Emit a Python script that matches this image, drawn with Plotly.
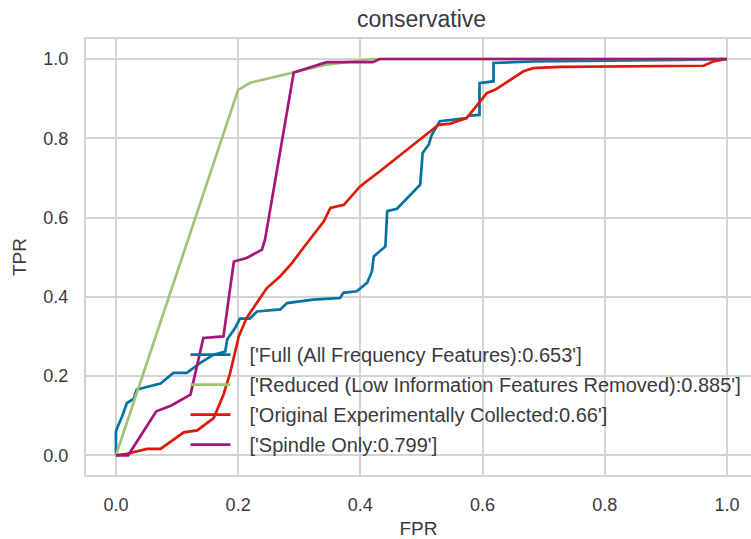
import plotly.graph_objects as go

# ROC curves (FPR, TPR) for each feature set
full_fpr = [0.0, 0.0, 0.003, 0.01, 0.018, 0.029, 0.034, 0.073, 0.094, 0.116, 0.138, 0.16, 0.179, 0.182,
            0.195, 0.203, 0.219, 0.231, 0.269, 0.28, 0.323, 0.367, 0.372, 0.394, 0.411, 0.419, 0.422,
            0.435, 0.441, 0.444, 0.46, 0.498, 0.502, 0.512, 0.517, 0.53, 0.574, 0.577, 0.595, 0.595,
            0.618, 0.618, 0.683, 0.924, 1.0]
full_tpr = [0.0, 0.06, 0.073, 0.098, 0.132, 0.142, 0.166, 0.181, 0.208, 0.208, 0.233, 0.254, 0.262, 0.292,
            0.321, 0.345, 0.345, 0.363, 0.368, 0.384, 0.393, 0.397, 0.41, 0.414, 0.435, 0.464, 0.502,
            0.519, 0.527, 0.616, 0.622, 0.683, 0.763, 0.784, 0.809, 0.843, 0.851, 0.857, 0.859, 0.939,
            0.944, 0.99, 0.994, 0.998, 1.0]

reduced_fpr = [0.0, 0.2, 0.22, 0.29, 0.345, 0.42, 1.0]
reduced_tpr = [0.0, 0.922, 0.94, 0.965, 0.986, 1.0, 1.0]

original_fpr = [0.0, 0.018, 0.051, 0.073, 0.111, 0.133, 0.16, 0.176, 0.187, 0.201, 0.214, 0.247, 0.269,
                0.288, 0.31, 0.34, 0.351, 0.373, 0.4, 0.433, 0.528, 0.547, 0.574, 0.607, 0.621, 0.651,
                0.667, 0.683, 0.727, 0.962, 0.978, 1.0]
original_tpr = [0.0, 0.004, 0.016, 0.016, 0.058, 0.063, 0.094, 0.153, 0.208, 0.3, 0.347, 0.422, 0.452,
                0.485, 0.53, 0.59, 0.624, 0.632, 0.679, 0.718, 0.834, 0.837, 0.851, 0.914, 0.923, 0.952,
                0.969, 0.977, 0.98, 0.983, 0.994, 1.0]

spindle_fpr = [0.0, 0.02, 0.066, 0.09, 0.122, 0.143, 0.176, 0.193, 0.214, 0.239, 0.244, 0.291, 0.345,
               0.42, 0.432, 1.0]
spindle_tpr = [0.0, 0.0, 0.111, 0.125, 0.153, 0.296, 0.3, 0.489, 0.498, 0.519, 0.544, 0.966, 0.992,
               0.992, 1.0, 1.0]

labels = [
    "['Full (All Frequency Features):0.653']",
    "['Reduced (Low Information Features Removed):0.885']",
    "['Original Experimentally Collected:0.66']",
    "['Spindle Only:0.799']",
]
colors = ["#0272a2", "#9fc377", "#dd1a0a", "#a5157a"]

tick_vals = [0.0, 0.2, 0.4, 0.6, 0.8, 1.0]
tick_text = ["0.0", "0.2", "0.4", "0.6", "0.8", "1.0"]

FONT = "Liberation Sans, Arial, sans-serif"
TEXT = "#3a3a3a"
GRID = "#d4d4d4"
PAD = "\u2002\u2009"  # small gap between legend line and its label

fig = go.Figure()
series = [(full_fpr, full_tpr), (reduced_fpr, reduced_tpr),
          (original_fpr, original_tpr), (spindle_fpr, spindle_tpr)]
for i, ((xs, ys), name, col) in enumerate(zip(series, labels, colors)):
    fig.add_trace(go.Scatter(
        x=xs, y=ys, mode="lines", name=PAD + name, legendgroup=f"g{i}",
        line=dict(color=col, width=2.7),
    ))

fig.update_layout(
    width=751, height=539,
    margin=dict(l=86, r=0, t=39, b=64),
    paper_bgcolor="white", plot_bgcolor="white",
    font=dict(family=FONT, color=TEXT, size=18),
    showlegend=True,
    legend=dict(
        x=0.1496, y=0.321, xanchor="left", yanchor="top",
        bgcolor="rgba(0,0,0,0)", borderwidth=0,
        font=dict(size=20, color=TEXT, family=FONT),
        traceorder="grouped", tracegroupgap=1,
        itemwidth=40,
    ),
    annotations=[dict(
        text="conservative", xref="paper", yref="paper",
        x=0.505, y=1.0, yshift=20, xanchor="center", yanchor="middle",
        showarrow=False, font=dict(size=23, color=TEXT, family=FONT),
    )],
)

fig.update_xaxes(
    range=[-0.049, 1.0394], tickvals=tick_vals, ticktext=tick_text,
    showgrid=True, gridcolor=GRID, gridwidth=1.8, zeroline=False,
    showline=True, linecolor=GRID, linewidth=2, mirror=True,
    ticks="", ticklabelstandoff=12,
    title=dict(text="FPR", font=dict(size=19, color=TEXT, family=FONT), standoff=10),
)
fig.update_yaxes(
    range=[-0.0497, 1.0505], tickvals=tick_vals, ticktext=tick_text,
    showgrid=True, gridcolor=GRID, gridwidth=1.8, zeroline=False,
    showline=True, linecolor=GRID, linewidth=2,
    ticks="", ticklabelstandoff=12,
    title=dict(text="TPR", font=dict(size=19, color=TEXT, family=FONT), standoff=12),
)

fig.write_html("out.html")
